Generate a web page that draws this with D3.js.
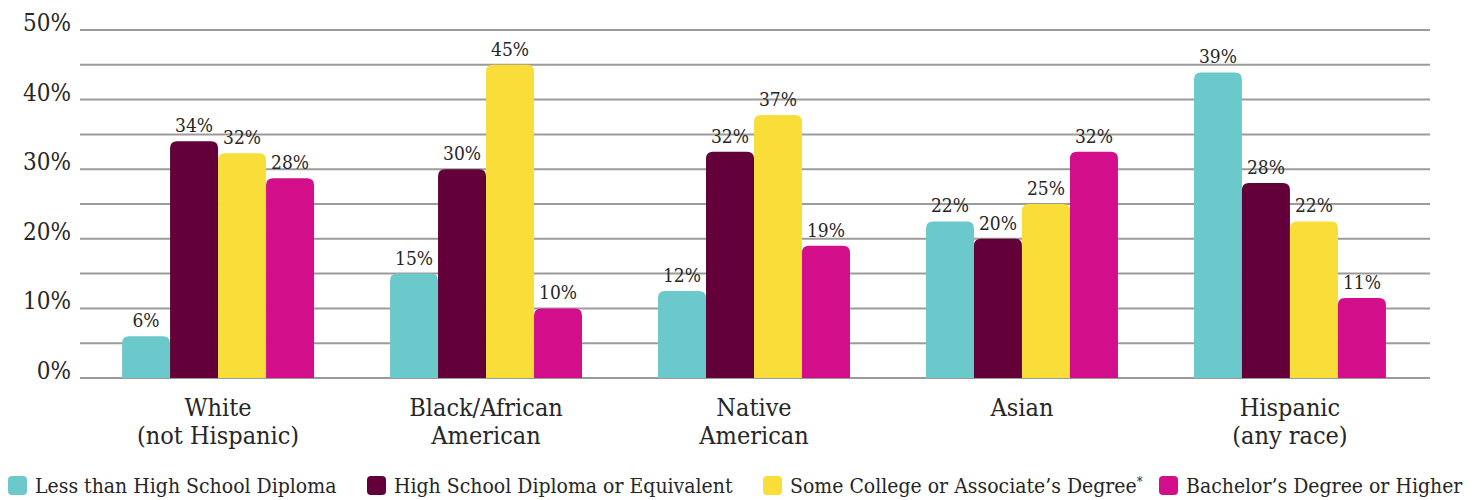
<!DOCTYPE html>
<html>
<head>
<meta charset="utf-8">
<script src="https://cdn.jsdelivr.net/npm/d3@7"></script>
<style>
body { margin: 0; background: #fff; }
text { font-family: "DejaVu Serif Condensed", "DejaVu Serif", serif; font-stretch: condensed; fill: #262626; }
</style>
</head>
<body>
<div id="chart"></div>
<script>
var width = 1475,
    height = 500;

// data
var groups = ["White|(not Hispanic)", "Black/African|American", "Native|American", "Asian", "Hispanic|(any race)"];
var series = ["Less than High School Diploma", "High School Diploma or Equivalent", "Some College or Associate\u2019s Degree", "Bachelor\u2019s Degree or Higher"];
var colors = ["#6cc9cb", "#63003a", "#f9dd38", "#d30e8b"];
// bar heights as drawn
var lessHS   = [6, 15, 12.5, 22.5, 43.9];
var hsDip    = [34, 30, 32.5, 20, 28];
var someColl = [32.3, 45, 37.8, 25, 22.5];
var bachelor = [28.7, 10, 19, 32.5, 11.5];
// printed labels
var lessHSLabels   = ["6%", "15%", "12%", "22%", "39%"];
var hsDipLabels    = ["34%", "30%", "32%", "20%", "28%"];
var someCollLabels = ["32%", "45%", "37%", "25%", "22%"];
var bachelorLabels = ["28%", "10%", "19%", "32%", "11%"];
var gridTicks = [0, 5, 10, 15, 20, 25, 30, 35, 40, 45, 50];
var labelTicks = [0, 10, 20, 30, 40, 50];

var values = [lessHS, hsDip, someColl, bachelor];
var labels = [lessHSLabels, hsDipLabels, someCollLabels, bachelorLabels];

var svg = d3.select("#chart").append("svg")
    .attr("width", width)
    .attr("height", height);

var y = d3.scaleLinear().domain([0, 50]).range([378, 30]);

var x0 = d3.scaleBand()
    .domain(groups)
    .range([80, 1428])
    .paddingInner(0.2836)
    .paddingOuter(0.157);

var x1 = d3.scaleBand()
    .domain(series)
    .range([0, x0.bandwidth()]);

// gridlines
svg.append("g")
    .selectAll("line")
    .data(gridTicks)
    .enter().append("line")
    .attr("x1", 80)
    .attr("x2", 1430)
    .attr("y1", function(d) { return y(d); })
    .attr("y2", function(d) { return y(d); })
    .attr("stroke", "#9b9b9b")
    .attr("stroke-width", 2);

// y labels
svg.append("g")
    .selectAll("text")
    .data(labelTicks)
    .enter().append("text")
    .attr("x", 71)
    .attr("y", function(d) { return y(d) + 1; })
    .attr("text-anchor", "end")
    .style("font-size", "24px")
    .text(function(d) { return d + "%"; });

// rounded top bar
function barPath(x, w, top, bottom, r) {
  r = Math.min(r, (bottom - top), w / 2);
  return "M" + x + "," + bottom +
    "V" + (top + r) +
    "Q" + x + "," + top + " " + (x + r) + "," + top +
    "H" + (x + w - r) +
    "Q" + (x + w) + "," + top + " " + (x + w) + "," + (top + r) +
    "V" + bottom + "Z";
}

var rows = [];
groups.forEach(function(g, gi) {
  series.forEach(function(s, si) {
    rows.push({group: g, series: s, si: si, value: values[si][gi], label: labels[si][gi]});
  });
});

var bars = svg.append("g");

bars.selectAll("path")
    .data(rows)
    .enter().append("path")
    .attr("d", function(d) {
      return barPath(x0(d.group) + x1(d.series), x1.bandwidth(), y(d.value), y(0), 7);
    })
    .attr("fill", function(d) { return colors[d.si]; });

bars.selectAll("text")
    .data(rows)
    .enter().append("text")
    .attr("x", function(d) { return x0(d.group) + x1(d.series) + x1.bandwidth() / 2; })
    .attr("y", function(d) { return y(d.value) - 9; })
    .attr("text-anchor", "middle")
    .style("font-size", "19px")
    .text(function(d) { return d.label; });

// category labels, one text per line
var cat = svg.append("g")
    .selectAll("g")
    .data(groups)
    .enter().append("g")
    .attr("transform", function(d) { return "translate(" + (x0(d) + x0.bandwidth() / 2) + ",0)"; });

cat.selectAll("text")
    .data(function(d) { return d.split("|"); })
    .enter().append("text")
    .attr("y", function(d, i) { return 416 + i * 28; })
    .attr("text-anchor", "middle")
    .style("font-size", "25px")
    .text(function(d) { return d; });

// legend
var legendX = [8, 367, 763, 1159];
var legend = svg.append("g")
    .selectAll("g")
    .data(series)
    .enter().append("g")
    .attr("transform", function(d, i) { return "translate(" + legendX[i] + ",476)"; });

legend.append("rect")
    .attr("width", 19)
    .attr("height", 19)
    .attr("rx", 4)
    .attr("fill", function(d, i) { return colors[i]; });

var ltext = legend.append("text")
    .attr("x", 27)
    .attr("y", 17)
    .style("font-size", "21px")
    .text(function(d) { return d; });

// asterisk on the college item
ltext.filter(function(d, i) { return i === 2; })
  .append("tspan")
    .attr("dy", -7)
    .style("font-size", "13px")
    .text("*");
</script>
</body>
</html>
